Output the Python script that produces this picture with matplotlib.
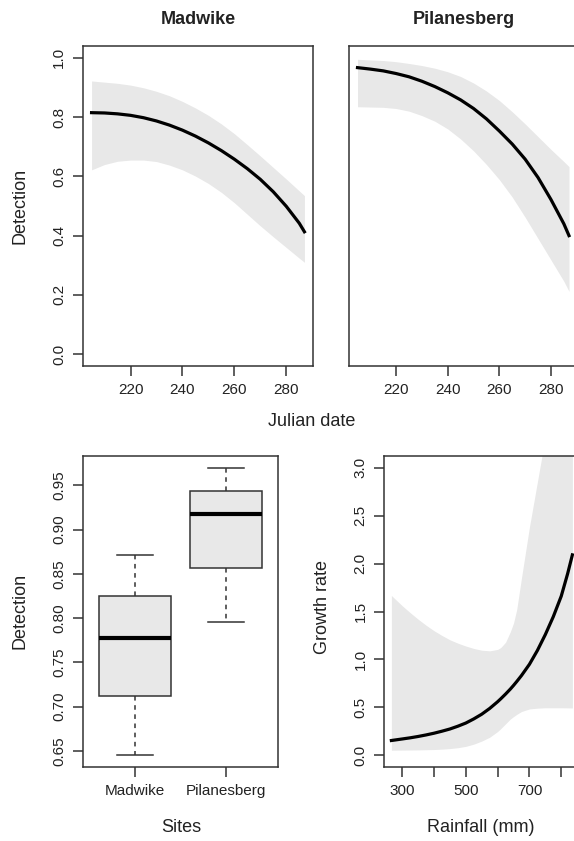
import matplotlib
matplotlib.use("Agg")
from matplotlib import pyplot as plt

plt.rcParams['font.family'] = ['Liberation Sans', 'DejaVu Sans']

# detection vs julian date, fitted curve with confidence band
julian = [205, 210, 215, 220, 225, 230, 235, 240, 245, 250, 255, 260, 265, 270, 275, 280, 285, 287]
mad_fit = [0.815, 0.814, 0.811, 0.806, 0.798, 0.787, 0.773, 0.756, 0.736, 0.713, 0.687, 0.658,
           0.626, 0.590, 0.548, 0.499, 0.442, 0.413]
mad_hi = [0.922, 0.918, 0.914, 0.908, 0.899, 0.887, 0.872, 0.853, 0.831, 0.806, 0.777, 0.744,
          0.707, 0.669, 0.630, 0.591, 0.551, 0.535]
mad_lo = [0.622, 0.640, 0.651, 0.655, 0.655, 0.650, 0.638, 0.622, 0.601, 0.576, 0.546, 0.511,
          0.472, 0.433, 0.396, 0.360, 0.324, 0.310]
pil_fit = [0.967, 0.962, 0.956, 0.947, 0.936, 0.921, 0.903, 0.882, 0.858, 0.829, 0.794, 0.753,
           0.709, 0.658, 0.596, 0.522, 0.440, 0.400]
pil_hi = [0.995, 0.993, 0.991, 0.987, 0.981, 0.974, 0.965, 0.953, 0.937, 0.915, 0.888, 0.856,
          0.818, 0.777, 0.734, 0.691, 0.650, 0.633]
pil_lo = [0.835, 0.834, 0.833, 0.829, 0.820, 0.805, 0.786, 0.760, 0.726, 0.686, 0.640, 0.589,
          0.530, 0.462, 0.390, 0.318, 0.246, 0.212]

# boxplot summary per site
sites = ["Madwike", "Pilanesberg"]
box_whislo = [0.645, 0.796]
box_q1 = [0.712, 0.857]
box_med = [0.778, 0.917]
box_q3 = [0.825, 0.944]
box_whishi = [0.871, 0.970]

# growth rate vs rainfall
rain = [266, 300, 325, 350, 375, 400, 425, 450, 475, 500, 525, 550, 575, 600, 610, 625, 640,
        650, 660, 675, 700, 725, 750, 775, 800, 820, 835]
grow_fit = [0.156, 0.172, 0.184, 0.198, 0.214, 0.232, 0.253, 0.276, 0.305, 0.338, 0.381, 0.430,
            0.490, 0.560, 0.591, 0.640, 0.692, 0.730, 0.770, 0.833, 0.950, 1.094, 1.260, 1.446,
            1.660, 1.893, 2.090]
grow_hi = [1.667, 1.560, 1.488, 1.420, 1.357, 1.300, 1.250, 1.205, 1.170, 1.140, 1.115, 1.097,
           1.090, 1.105, 1.125, 1.180, 1.290, 1.380, 1.520, 1.850, 2.380, 2.850, 3.320, 3.750,
           4.300, 4.700, 5.000]
grow_lo = [0.055, 0.056, 0.057, 0.058, 0.060, 0.062, 0.066, 0.072, 0.081, 0.095, 0.118, 0.150,
           0.190, 0.250, 0.280, 0.330, 0.380, 0.405, 0.428, 0.458, 0.485, 0.493, 0.497, 0.497,
           0.497, 0.496, 0.495]

W, H = 574, 841
band = "#e8e8e8"
spine_col = "#333333"


def ax_at(left, top, right, bottom):
    return fig.add_axes([left / W, 1 - bottom / H, (right - left) / W, (bottom - top) / H])


def style(ax):
    for s in ax.spines.values():
        s.set_color(spine_col)
        s.set_linewidth(1.1)
    ax.tick_params(direction="out", length=7, width=1.1, color=spine_col,
                   labelsize=11, labelcolor="#222222", pad=5)


fig = plt.figure(figsize=(W / 100, H / 100), dpi=100)

ax1 = ax_at(83, 46, 313, 366)
ax2 = ax_at(349, 46, 577.5, 366)
for ax, fit, lo, hi in [(ax1, mad_fit, mad_lo, mad_hi), (ax2, pil_fit, pil_lo, pil_hi)]:
    ax.fill_between(julian, lo, hi, color=band, lw=0)
    ax.plot(julian, fit, color="black", lw=2.3, solid_joinstyle="round")
    ax.set_xlim(201.7, 290.3)
    ax.set_ylim(-0.04, 1.04)
    ax.set_xticks([220, 240, 260, 280])
    style(ax)
ax1.set_yticks([0, 0.2, 0.4, 0.6, 0.8, 1.0])
ax1.set_yticklabels(["0.0", "0.2", "0.4", "0.6", "0.8", "1.0"], rotation=90, va="center")
ax2.set_yticks([])

ax3 = ax_at(83, 456, 278, 767)
stats = []
for i in range(len(sites)):
    stats.append(dict(med=box_med[i], q1=box_q1[i], q3=box_q3[i],
                      whislo=box_whislo[i], whishi=box_whishi[i], fliers=[]))
ax3.bxp(stats, widths=0.8, capwidths=0.4, patch_artist=True,
        boxprops=dict(facecolor=band, edgecolor="#333333", lw=1.1),
        medianprops=dict(color="black", lw=3),
        whiskerprops=dict(color="#333333", lw=1.1, ls=(0, (3, 3))),
        capprops=dict(color="#333333", lw=1.1))
ax3.set_xlim(0.42, 2.58)
ax3.set_ylim(0.632, 0.983)
ax3.set_xticks([1, 2])
ax3.set_xticklabels(sites)
yt = [0.65, 0.70, 0.75, 0.80, 0.85, 0.90, 0.95]
ax3.set_yticks(yt)
ax3.set_yticklabels(["%.2f" % v for v in yt], rotation=90, va="center")
style(ax3)

ax4 = ax_at(384.3, 456, 579.6, 767)
ax4.fill_between(rain, grow_lo, grow_hi, color=band, lw=0)
ax4.plot(rain, grow_fit, color="black", lw=2.3, solid_joinstyle="round")
ax4.set_xlim(243.7, 857.7)
ax4.set_ylim(-0.12, 3.12)
ax4.set_xticks([300, 400, 500, 600, 700, 800])
ax4.set_xticklabels(["300", "", "500", "", "700", ""])
yt4 = [0.0, 0.5, 1.0, 1.5, 2.0, 2.5, 3.0]
ax4.set_yticks(yt4)
ax4.set_yticklabels(["%.1f" % v for v in yt4], rotation=90, va="center")
style(ax4)


def txt(x, y, s, **kw):
    fig.text(x / W, 1 - y / H, s, ha="center", va="center", color="#222222", **kw)


txt(198, 20, "Madwike", fontsize=13, fontweight="bold")
txt(464, 20, "Pilanesberg", fontsize=13, fontweight="bold")
txt(20, 206, "Detection", fontsize=13, rotation=90)
txt(312, 422, "Julian date", fontsize=13)
txt(20, 611, "Detection", fontsize=13, rotation=90)
txt(181, 828, "Sites", fontsize=13)
txt(322, 607, "Growth rate", fontsize=13, rotation=90)
txt(481, 828, "Rainfall (mm)", fontsize=13)

fig.savefig("out.png", dpi=100)
